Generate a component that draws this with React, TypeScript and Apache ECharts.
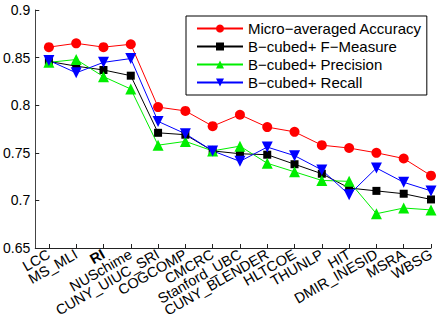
import React, { useEffect, useRef } from "react";
import * as echarts from "echarts";

const categories = ["LCC", "MS_MLI", "RI", "NUSchime", "CUNY_UIUC_SRI", "COGCOMP", "CMCRC", "Stanford_UBC", "CUNY_BLENDER", "HLTCOE", "THUNLP", "HIT", "DMIR_INESID", "MSRA", "WBSG"];
const accuracy = [0.861, 0.865, 0.861, 0.864, 0.798, 0.794, 0.778, 0.790, 0.777, 0.772, 0.758, 0.755, 0.750, 0.744, 0.726];
const fMeasure = [0.846, 0.841, 0.837, 0.831, 0.771, 0.769, 0.752, 0.749, 0.748, 0.738, 0.728, 0.713, 0.710, 0.707, 0.701];
const precision = [0.845, 0.848, 0.830, 0.817, 0.758, 0.762, 0.752, 0.757, 0.739, 0.730, 0.721, 0.720, 0.686, 0.692, 0.690];
const recall = [0.847, 0.834, 0.845, 0.849, 0.783, 0.770, 0.752, 0.741, 0.756, 0.747, 0.732, 0.706, 0.734, 0.719, 0.710];
const seriesNames = ["Micro\u2212averaged Accuracy", "B\u2212cubed+ F\u2212Measure", "B\u2212cubed+ Precision", "B\u2212cubed+ Recall"];
const yTicks = [0.65, 0.7, 0.75, 0.8, 0.85, 0.9];

const FONT = "Liberation Sans, Arial, sans-serif";

export default function App() {
  const ref = useRef<HTMLDivElement>(null);
  useEffect(() => {
    document.body.style.margin = "0";
    const chart = echarts.init(ref.current!, null, { renderer: "svg" });
    const idx = categories.map((_, i) => i + 1);
    const oddIdx = idx.filter((i) => i % 2 === 1);
    const evenIdx = idx.filter((i) => i % 2 === 0);
    const mk = (vals: number[]) => vals.map((v, i) => [i + 1, v]);
    const series = [
      { name: seriesNames[0], data: mk(accuracy), color: "#ff0000", symbol: "circle", symbolSize: 10, symbolRotate: 0 },
      { name: seriesNames[1], data: mk(fMeasure), color: "#000000", symbol: "rect", symbolSize: 8, symbolRotate: 0 },
      { name: seriesNames[2], data: mk(precision), color: "#00ee00", symbol: "triangle", symbolSize: 11, symbolRotate: 0 },
      { name: seriesNames[3], data: mk(recall), color: "#0000ff", symbol: "triangle", symbolSize: 11, symbolRotate: 180 },
    ].map((s) => ({
      type: "line",
      name: s.name,
      data: s.data,
      xAxisIndex: 0,
      symbol: s.symbol,
      symbolSize: s.symbolSize,
      symbolRotate: s.symbolRotate,
      showAllSymbol: true,
      lineStyle: { color: s.color, width: 1 },
      itemStyle: { color: s.color, borderWidth: 0 },
      emphasis: { disabled: true },
    }));
    const labelCfg = (values: number[]) => ({
      customValues: values,
      rotate: 30,
      fontSize: 14.5,
      color: "#000",
      fontFamily: FONT,
      margin: 5,
      hideOverlap: false,
      showMinLabel: true,
      showMaxLabel: true,
      formatter: (v: number) => {
        const name = categories[Math.round(v) - 1] ?? "";
        return name === "RI" ? "{b|RI}" : name;
      },
      rich: { b: { fontWeight: "bold", fontSize: 14.5, fontFamily: FONT, color: "#000" } },
    });
    chart.setOption({
      animation: false,
      textStyle: { fontFamily: FONT },
      grid: { left: 35, right: 7, top: 10, bottom: 72, containLabel: false },
      legend: {
        orient: "vertical",
        left: 186,
        top: 16,
        itemWidth: 46,
        itemHeight: 10,
        itemGap: 3,
        padding: [5, 5, 5, 10],
        borderColor: "#000",
        borderWidth: 1,
        backgroundColor: "#fff",
        textStyle: { fontSize: 15, color: "#000", fontFamily: FONT },
        data: seriesNames,
      },
      xAxis: [
        {
          type: "value",
          min: 0.5,
          max: 15,
          position: "bottom",
          splitLine: { show: false },
          axisLine: { show: true, lineStyle: { color: "#222", width: 1 } },
          axisTick: { show: true, inside: true, length: 4, customValues: idx, lineStyle: { color: "#222" } },
          axisLabel: labelCfg(oddIdx),
        },
        {
          type: "value",
          min: 0.5,
          max: 15,
          position: "bottom",
          offset: 0,
          splitLine: { show: false },
          axisLine: { show: false },
          axisTick: { show: false },
          axisLabel: labelCfg(evenIdx),
        },
      ],
      yAxis: {
        type: "value",
        min: 0.65,
        max: 0.9,
        interval: 0.05,
        splitLine: { show: false },
        axisLine: { show: true, lineStyle: { color: "#444", width: 1 } },
        axisTick: { show: true, inside: true, length: 4, customValues: yTicks, lineStyle: { color: "#222" } },
        axisLabel: {
          customValues: yTicks,
          fontSize: 14,
          color: "#000",
          fontFamily: FONT,
          margin: 5,
          showMinLabel: true,
          showMaxLabel: true,
          formatter: (v: number) => String(+v.toFixed(2)),
        },
      },
      series,
    });
    return () => chart.dispose();
  }, []);
  return <div ref={ref} style={{ width: 438, height: 320 }} />;
}
